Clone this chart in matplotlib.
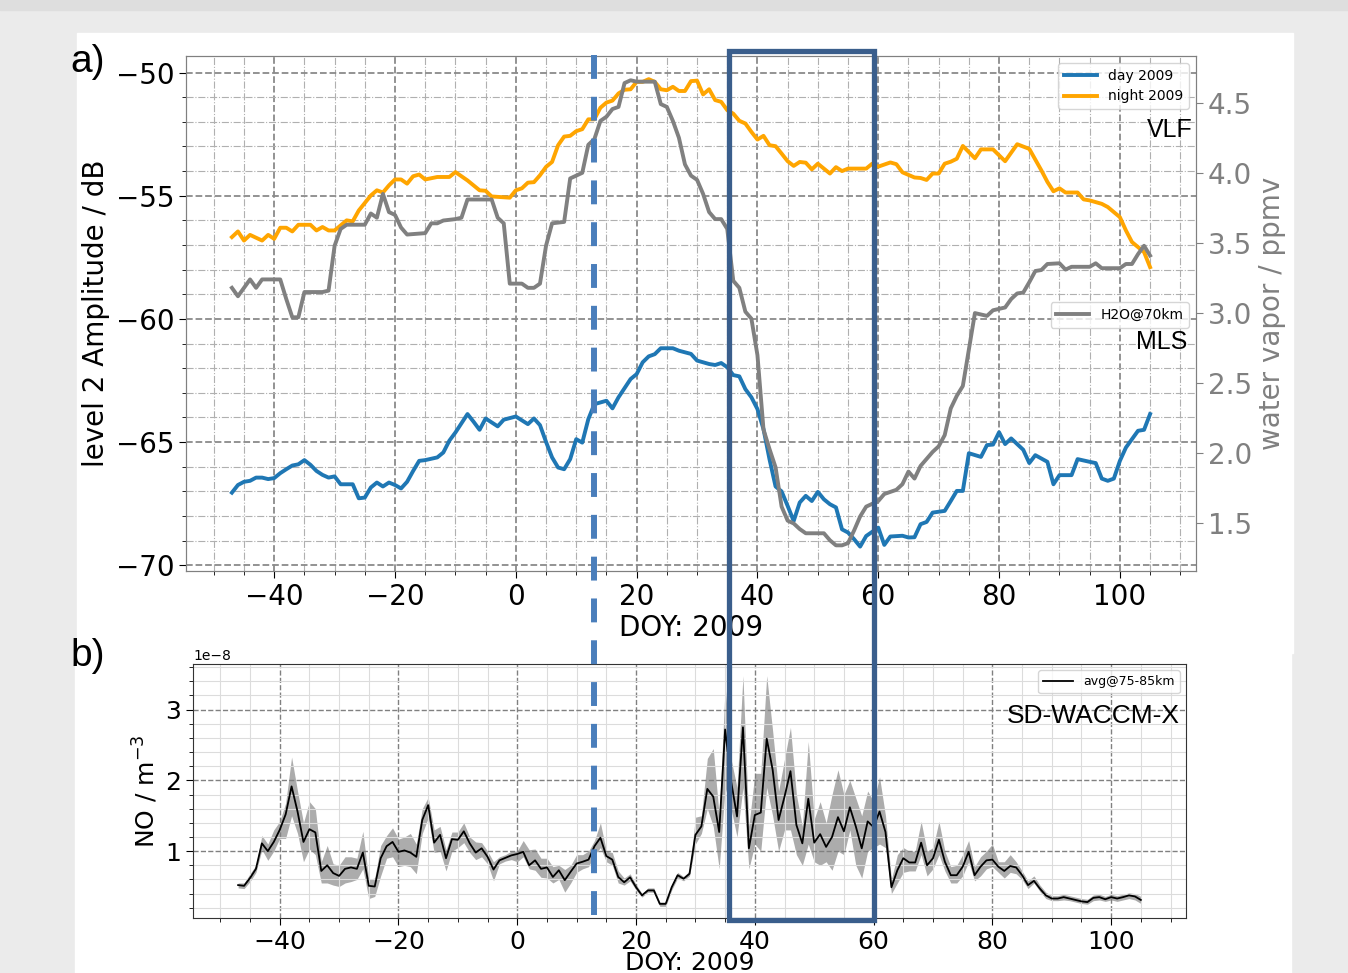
import numpy as np
import matplotlib
matplotlib.use("Agg")
import matplotlib.pyplot as plt
from matplotlib import transforms
from matplotlib.patches import Rectangle
from matplotlib.lines import Line2D
from matplotlib.ticker import MultipleLocator

# ---------------- data ----------------
# VLF night amplitude (dB)
night_doy = [-47, -46, -45, -44, -42, -41, -40, -39, -38, -37,
             -36, -34, -33, -32, -31, -30, -28, -27, -26, -24,
             -23, -22, -21, -20, -19, -18, -17, -16, -15, -13,
             -11, -10, -8, -6, -5, -4, -1, 0, 1, 2,
             3, 4, 5, 6, 7, 8, 9, 10, 11, 12,
             13, 14, 15, 16, 17, 18, 19, 20, 21, 22,
             23, 24, 25, 26, 27, 28, 29, 30, 31, 32,
             33, 34, 35, 36, 37, 38, 39, 40, 41, 42,
             43, 44, 45, 46, 47, 48, 49, 50, 51, 52,
             53, 54, 55, 58, 59, 60, 62, 63, 64, 66,
             67, 68, 69, 70, 71, 72, 73, 74, 76, 77,
             79, 81, 83, 85, 87, 88, 89, 90, 91, 93,
             94, 95, 97, 98, 100, 101, 102, 104, 105]
night_db = [-56.68, -56.45, -56.82, -56.59, -56.82, -56.59, -56.75, -56.30, -56.30, -56.45,
            -56.18, -56.18, -56.41, -56.27, -56.41, -56.41, -56.00, -56.04, -55.60, -54.99,
            -54.78, -54.87, -54.58, -54.34, -54.34, -54.51, -54.21, -54.14, -54.34, -54.24,
            -54.24, -54.04, -54.38, -54.78, -54.80, -55.03, -55.08, -54.78, -54.70, -54.47,
            -54.45, -54.17, -53.83, -53.63, -52.95, -52.60, -52.57, -52.38, -52.30, -51.90,
            -51.90, -51.43, -51.22, -51.14, -50.85, -50.70, -50.68, -50.38, -50.38, -50.27,
            -50.38, -50.68, -50.72, -50.58, -50.75, -50.75, -50.35, -50.33, -50.89, -50.68,
            -51.12, -51.19, -51.53, -51.67, -51.96, -52.07, -52.41, -52.72, -52.57, -52.95,
            -52.99, -53.29, -53.60, -53.79, -53.63, -53.66, -53.93, -53.70, -53.90, -54.10,
            -53.84, -54.00, -53.90, -53.90, -53.70, -53.82, -53.65, -53.72, -54.05, -54.26,
            -54.28, -54.36, -54.10, -54.10, -53.70, -53.62, -53.50, -52.98, -53.48, -53.12,
            -53.12, -53.60, -52.91, -53.10, -53.97, -54.44, -54.82, -54.70, -54.87, -54.87,
            -55.15, -55.19, -55.33, -55.46, -55.87, -56.41, -56.88, -57.29, -57.90]

# VLF day amplitude (dB)
day_doy = [-47, -46, -45, -44, -43, -42, -41, -40, -39, -38,
           -37, -36, -35, -34, -33, -32, -31, -30, -29, -27,
           -26, -25, -24, -23, -22, -21, -20, -19, -18, -17,
           -16, -15, -13, -12, -11, -10, -8, -7, -6, -5,
           -3, -2, 0, 2, 3, 4, 5, 6, 7, 8,
           9, 10, 11, 12, 13, 15, 16, 17, 19, 20,
           21, 22, 23, 24, 26, 27, 29, 30, 32, 33,
           34, 35, 36, 37, 38, 39, 40, 41, 42, 43,
           44, 45, 46, 47, 48, 49, 50, 51, 52, 53,
           54, 55, 56, 57, 58, 60, 61, 62, 64, 65,
           66, 67, 68, 69, 71, 72, 73, 74, 75, 77,
           78, 79, 80, 81, 82, 84, 85, 86, 88, 89,
           90, 92, 93, 95, 96, 97, 98, 99, 100, 101,
           103, 104, 105]
day_db = [-67.05, -66.74, -66.61, -66.57, -66.44, -66.44, -66.50, -66.46, -66.26, -66.10,
          -65.95, -65.90, -65.73, -65.92, -66.17, -66.33, -66.44, -66.39, -66.71, -66.71,
          -67.28, -67.25, -66.84, -66.64, -66.80, -66.64, -66.74, -66.88, -66.61, -66.17,
          -65.76, -65.73, -65.62, -65.42, -64.94, -64.61, -63.86, -64.17, -64.50, -64.04,
          -64.36, -64.09, -63.96, -64.27, -64.04, -64.31, -64.99, -65.62, -66.03, -66.10,
          -65.69, -64.88, -65.02, -64.07, -63.46, -63.32, -63.63, -63.18, -62.44, -62.24,
          -61.76, -61.52, -61.43, -61.19, -61.19, -61.29, -61.42, -61.69, -61.83, -61.87,
          -61.79, -61.96, -62.28, -62.33, -62.85, -63.18, -63.66, -64.47, -65.70, -66.80,
          -67.00, -67.59, -68.20, -67.45, -67.18, -67.39, -67.02, -67.32, -67.52, -67.65,
          -68.54, -68.67, -68.94, -69.24, -68.81, -68.47, -69.17, -68.83, -68.80, -68.87,
          -68.86, -68.33, -68.24, -67.86, -67.79, -67.39, -66.98, -66.98, -65.45, -65.60,
          -65.12, -65.10, -64.60, -65.08, -64.85, -65.31, -65.85, -65.53, -65.80, -66.71,
          -66.34, -66.34, -65.69, -65.80, -65.85, -66.48, -66.57, -66.48, -65.76, -65.22,
          -64.54, -64.50, -63.86]

# MLS water vapour at 70 km (ppmv)
h2o_doy = [-47, -46, -45, -44, -43, -42, -39, -38, -37, -36,
           -35, -32, -31, -30, -29, -28, -25, -24, -23, -22,
           -21, -20, -19, -18, -15, -14, -13, -12, -10, -9,
           -8, -4, -3, -2, -1, 1, 2, 3, 4, 5,
           6, 8, 9, 10, 11, 12, 13, 14, 15, 16,
           17, 18, 19, 20, 23, 24, 25, 26, 27, 28,
           29, 30, 31, 32, 33, 34, 35, 36, 37, 38,
           39, 40, 41, 42, 43, 44, 45, 46, 47, 48,
           51, 52, 53, 54, 55, 56, 57, 58, 59, 60,
           61, 63, 64, 65, 66, 67, 68, 69, 70, 71,
           72, 73, 74, 75, 76, 77, 78, 79, 81, 82,
           83, 84, 85, 86, 87, 88, 90, 91, 92, 95,
           96, 97, 100, 101, 102, 103, 104, 105]
h2o_ppmv = [3.18, 3.12, 3.18, 3.24, 3.18, 3.24, 3.24, 3.10, 2.97, 2.97,
            3.15, 3.15, 3.16, 3.48, 3.60, 3.63, 3.63, 3.71, 3.68, 3.85,
            3.72, 3.70, 3.61, 3.56, 3.57, 3.64, 3.64, 3.66, 3.67, 3.68,
            3.81, 3.81, 3.68, 3.64, 3.21, 3.21, 3.18, 3.18, 3.21, 3.48,
            3.64, 3.65, 3.96, 3.98, 4.00, 4.20, 4.24, 4.37, 4.40, 4.455,
            4.47, 4.64, 4.66, 4.65, 4.65, 4.49, 4.47, 4.37, 4.25, 4.06,
            3.98, 3.95, 3.85, 3.72, 3.67, 3.67, 3.60, 3.23, 3.18, 3.01,
            2.96, 2.70, 2.17, 2.03, 1.90, 1.62, 1.52, 1.50, 1.46, 1.43,
            1.43, 1.38, 1.344, 1.344, 1.36, 1.45, 1.55, 1.62, 1.64, 1.66,
            1.71, 1.74, 1.78, 1.87, 1.82, 1.91, 1.96, 2.01, 2.05, 2.13,
            2.32, 2.41, 2.48, 2.74, 3.00, 2.99, 2.98, 3.02, 3.04, 3.10,
            3.14, 3.146, 3.22, 3.30, 3.307, 3.35, 3.355, 3.31, 3.33, 3.33,
            3.355, 3.32, 3.32, 3.35, 3.35, 3.42, 3.48, 3.41]

# SD-WACCM-X NO density, daily from DOY -47 to 105 (units of 1e-8 m^-3)
no_doy = list(range(-47, 106))
no_mean = [0.52, 0.51, 0.62, 0.75, 1.11, 1.00, 1.13, 1.30, 1.52, 1.915,
           1.56, 1.13, 1.31, 1.265, 0.72, 0.80, 0.69, 0.65, 0.75, 0.77,
           0.75, 0.98, 0.51, 0.50, 0.90, 1.07, 1.13, 0.99, 1.01, 0.98,
           0.92, 1.44, 1.65, 1.12, 1.23, 0.90, 1.17, 1.16, 1.28, 1.11,
           0.98, 1.04, 0.92, 0.74, 0.87, 0.905, 0.94, 0.96, 0.99, 0.80,
           0.87, 0.75, 0.77, 0.635, 0.73, 0.59, 0.71, 0.825, 0.85, 0.88,
           1.07, 1.19, 0.93, 0.88, 0.635, 0.56, 0.63, 0.49, 0.375, 0.445,
           0.445, 0.255, 0.255, 0.49, 0.66, 0.61, 0.68, 1.23, 1.35, 1.88,
           1.77, 1.27, 2.72, 1.99, 1.49, 2.75, 1.04, 1.51, 1.545, 2.59,
           2.15, 1.44, 1.77, 2.13, 1.37, 1.11, 1.74, 1.12, 1.24, 1.06,
           1.20, 1.48, 1.28, 1.62, 1.35, 1.04, 1.42, 1.34, 1.56, 1.27,
           0.49, 0.73, 0.90, 0.84, 0.84, 1.12, 0.80, 0.90, 1.16, 0.85,
           0.66, 0.66, 0.78, 0.99, 0.66, 0.78, 0.87, 0.88, 0.78, 0.72,
           0.79, 0.77, 0.66, 0.52, 0.58, 0.47, 0.375, 0.33, 0.33, 0.35,
           0.33, 0.31, 0.29, 0.28, 0.34, 0.35, 0.32, 0.35, 0.33, 0.35,
           0.375, 0.36, 0.31]
no_upper = [0.55, 0.55, 0.68, 0.80, 1.22, 1.10, 1.30, 1.42, 1.68, 2.33,
            1.85, 1.40, 1.70, 1.60, 0.85, 1.08, 0.82, 0.80, 0.92, 0.92,
            0.90, 1.28, 0.60, 0.62, 1.08, 1.22, 1.33, 1.17, 1.20, 1.25,
            1.10, 1.60, 1.76, 1.30, 1.35, 1.02, 1.27, 1.27, 1.40, 1.20,
            1.13, 1.12, 1.00, 0.85, 0.92, 0.95, 1.00, 1.00, 1.15, 1.02,
            1.03, 0.90, 0.90, 0.78, 0.80, 0.74, 0.80, 0.95, 0.95, 1.00,
            1.15, 1.40, 1.00, 0.98, 0.72, 0.62, 0.68, 0.53, 0.40, 0.48,
            0.48, 0.28, 0.28, 0.52, 0.70, 0.64, 0.72, 1.48, 1.50, 2.31,
            2.45, 1.50, 3.33, 2.30, 1.90, 3.48, 1.35, 2.10, 2.10, 3.48,
            2.70, 1.85, 2.30, 2.75, 1.80, 1.35, 2.55, 1.45, 1.70, 1.40,
            1.80, 2.15, 1.80, 2.00, 1.75, 1.50, 1.85, 1.70, 2.05, 1.50,
            0.60, 0.95, 1.05, 1.00, 1.00, 1.42, 1.00, 1.05, 1.42, 1.00,
            0.78, 0.80, 0.95, 1.15, 0.78, 0.92, 1.00, 1.10, 0.85, 0.85,
            0.95, 0.85, 0.72, 0.58, 0.65, 0.52, 0.42, 0.37, 0.37, 0.39,
            0.37, 0.35, 0.33, 0.32, 0.38, 0.39, 0.36, 0.39, 0.37, 0.39,
            0.41, 0.40, 0.36]
no_lower = [0.48, 0.47, 0.57, 0.70, 1.02, 0.87, 1.00, 1.18, 1.18, 1.50,
            1.25, 0.85, 1.03, 0.95, 0.55, 0.55, 0.52, 0.50, 0.55, 0.57,
            0.60, 0.75, 0.33, 0.36, 0.65, 0.90, 0.92, 0.78, 0.80, 0.78,
            0.68, 1.25, 1.47, 0.98, 1.00, 0.72, 1.00, 1.05, 1.12, 0.98,
            0.88, 0.92, 0.82, 0.58, 0.82, 0.86, 0.88, 0.85, 0.92, 0.75,
            0.73, 0.63, 0.62, 0.55, 0.60, 0.42, 0.55, 0.70, 0.75, 0.78,
            0.95, 1.05, 0.85, 0.80, 0.55, 0.52, 0.58, 0.45, 0.35, 0.42,
            0.42, 0.22, 0.22, 0.45, 0.62, 0.58, 0.65, 1.10, 1.25, 1.60,
            1.35, 0.75, 1.90, 1.60, 1.20, 1.90, 0.75, 1.10, 1.00, 1.90,
            1.50, 1.00, 1.30, 1.30, 0.95, 0.80, 1.10, 0.85, 0.80, 0.85,
            0.73, 1.00, 0.95, 1.30, 0.80, 0.62, 1.00, 1.05, 1.10, 1.05,
            0.40, 0.55, 0.70, 0.72, 0.72, 0.95, 0.65, 0.75, 0.95, 0.72,
            0.55, 0.55, 0.65, 0.85, 0.58, 0.65, 0.75, 0.78, 0.70, 0.62,
            0.70, 0.68, 0.60, 0.47, 0.55, 0.43, 0.33, 0.30, 0.30, 0.31,
            0.30, 0.28, 0.26, 0.25, 0.30, 0.31, 0.29, 0.31, 0.29, 0.31,
            0.33, 0.31, 0.26]
no_scale = 1e-8

# annotation positions (DOY)
event_doy = 13.0
box_doy = [35.3, 59.3]

# ---------------- figure ----------------
W, H = 1348, 973
fig = plt.figure(figsize=(W / 100, H / 100), dpi=100, facecolor="#ebebeb")


def fx(px):
    return px / W


def fy(py):
    return 1 - py / H


# background bands / white panels
fig.add_artist(Rectangle((0, fy(10)), 1, 10 / H, transform=fig.transFigure,
                         color="#dedede", zorder=-3))
fig.add_artist(Rectangle((fx(77), fy(653)), fx(1293) - fx(77), (653 - 33) / H,
                         transform=fig.transFigure, color="white", zorder=-2))
fig.add_artist(Rectangle((fx(75), 0), fx(1291) - fx(75), (973 - 653) / H,
                         transform=fig.transFigure, color="white", zorder=-2))

# ---------------- panel a ----------------
ax1 = fig.add_axes([fx(186), fy(571), fx(1196) - fx(186), (571 - 56) / H])
ax1.plot(day_doy, day_db, color="#1f77b4", lw=2.8, label="day 2009")
ax1.plot(night_doy, night_db, color="orange", lw=2.8, label="night 2009")
ax1.set_xlim(-54.6, 112.6)
ax1.set_ylim(-70.23, -49.33)
ax1.xaxis.set_major_locator(MultipleLocator(20))
ax1.xaxis.set_minor_locator(MultipleLocator(5))
ax1.yaxis.set_major_locator(MultipleLocator(5))
ax1.yaxis.set_minor_locator(MultipleLocator(1))
ax1.grid(which="major", ls="--", color="#8a8a8a", lw=1.3)
ax1.grid(which="minor", ls="-.", color="#b0b0b0", lw=0.8)
ax1.tick_params(axis="both", which="major", labelsize=20, length=5)
ax1.tick_params(axis="both", which="minor", length=3)
for s in ax1.spines.values():
    s.set_color("#808080")
ax1.set_ylabel("level 2 Amplitude / dB", fontsize=20)
ax1.set_xlabel("DOY: 2009", fontsize=20, labelpad=2)
ax1.legend(loc="upper right", fontsize=10, handlelength=2.4)
ax1.text(0.997, 0.857, "VLF", transform=ax1.transAxes, ha="right", va="center",
         fontsize=18, family="Liberation Sans")
ax1.text(0.991, 0.444, "MLS", transform=ax1.transAxes, ha="right", va="center",
         fontsize=18, family="Liberation Sans")

ax2 = ax1.twinx()
ax2.plot(h2o_doy, h2o_ppmv, color="gray", lw=2.8, label="H2O@70km")
ax2.set_ylim(1.161, 4.833)
ax2.yaxis.set_major_locator(MultipleLocator(0.5))
ax2.tick_params(axis="y", labelsize=20, colors="gray", length=5)
ax2.set_ylabel("water vapor / ppmv", fontsize=20, color="gray")
for s in ax2.spines.values():
    s.set_color("#808080")
ax2.legend(loc="upper right", bbox_to_anchor=(1.0, 0.535), fontsize=10,
           handlelength=2.4)

# ---------------- panel b ----------------
ax3 = fig.add_axes([fx(193), fy(918), fx(1186) - fx(193), (918 - 664) / H])
no_d = np.array(no_doy)
ax3.fill_between(no_d, np.array(no_lower) * no_scale, np.array(no_upper) * no_scale,
                 color="gray", alpha=0.65, lw=0)
ax3.plot(no_d, np.array(no_mean) * no_scale, color="black", lw=1.3,
         label="avg@75-85km")
ax3.set_xlim(-54.6, 112.6)
ax3.set_ylim(0.055 * no_scale, 3.645 * no_scale)
ax3.xaxis.set_major_locator(MultipleLocator(20))
ax3.xaxis.set_minor_locator(MultipleLocator(5))
ax3.yaxis.set_major_locator(MultipleLocator(1 * no_scale))
ax3.yaxis.set_minor_locator(MultipleLocator(0.2 * no_scale))
ax3.grid(which="major", ls="--", color="#808080", lw=1.0)
ax3.grid(which="minor", ls="-", color="#dcdcdc", lw=0.8)
ax3.tick_params(axis="both", which="major", labelsize=18, length=5)
ax3.tick_params(axis="both", which="minor", length=3)
ax3.yaxis.get_offset_text().set_fontsize(10)
for s in ax3.spines.values():
    s.set_color("#333333")
ax3.set_ylabel(r"NO / m$^{-3}$", fontsize=18)
ax3.set_xlabel("DOY: 2009", fontsize=18, labelpad=-2)
ax3.legend(loc="upper right", fontsize=9, handlelength=2.4)
ax3.text(0.994, 0.795, "SD-WACCM-X", transform=ax3.transAxes, ha="right",
         va="center", fontsize=19, family="Liberation Sans")

# ---------------- panel letters ----------------
fig.text(fx(70), fy(62), "a)", fontsize=28, family="Liberation Sans",
         ha="left", va="center")
fig.text(fx(70), fy(656), "b)", fontsize=28, family="Liberation Sans",
         ha="left", va="center")

# ---------------- overlay annotations ----------------
blend = transforms.blended_transform_factory(ax1.transData, fig.transFigure)
fig.add_artist(Line2D([event_doy, event_doy], [fy(55), fy(923)], transform=blend,
                      color="#4a7ebb", lw=4.3, ls=(0, (4, 3)), zorder=10,
                      solid_capstyle="butt", dash_capstyle="butt"))
fig.add_artist(Rectangle((box_doy[0], fy(920)), box_doy[1] - box_doy[0],
                         (920 - 51) / H, transform=blend, fill=False,
                         ec="#3a5e8c", lw=3.8, zorder=11))

fig.savefig("out.png", dpi=100, facecolor=fig.get_facecolor())
